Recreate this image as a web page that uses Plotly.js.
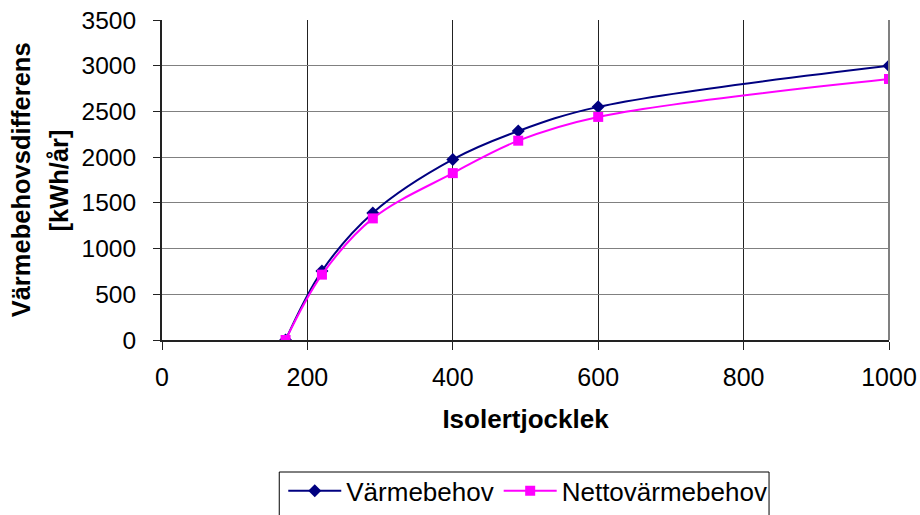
<!DOCTYPE html>
<html>
<head>
<meta charset="utf-8">
<script src="https://cdn.plot.ly/plotly-3.0.1.min.js"></script>
<style>html,body{margin:0;padding:0;background:#fff;}#chart{width:920px;height:515px;}</style>
</head>
<body>
<div id="chart"></div>
<script>
var isolering = [170, 220, 290, 400, 490, 600, 1000];
var varmebehov = [0, 755, 1390, 1975, 2285, 2550, 3000];
var nettovarmebehov = [0, 715, 1330, 1825, 2180, 2440, 2855];
var xTicks = [0, 200, 400, 600, 800, 1000];
var yTicks = [0, 500, 1000, 1500, 2000, 2500, 3000, 3500];
var yTitleLine1 = "Värmebehovsdifferens";
var yTitleLine2 = "[kWh/år]";
var xTitle = "Isolertjocklek";

var font = "Liberation Sans, Arial, sans-serif";

var traces = [
  {
    x: isolering, y: varmebehov, name: "Värmebehov", type: "scatter", mode: "lines+markers",
    line: {color: "#000080", width: 2, shape: "spline", smoothing: 1},
    marker: {symbol: "diamond", size: 10, color: "#000080"}
  },
  {
    x: isolering, y: nettovarmebehov, name: "Nettovärmebehov", type: "scatter", mode: "lines+markers",
    line: {color: "#FF00FF", width: 2, shape: "spline", smoothing: 1},
    marker: {symbol: "square", size: 10, color: "#FF00FF"}
  }
];

var layout = {
  width: 920, height: 515,
  margin: {l: 162, r: 31, t: 20, b: 175, autoexpand: false},
  paper_bgcolor: "#fff", plot_bgcolor: "#fff",
  font: {family: font, color: "#000"},
  showlegend: true,
  legend: {
    orientation: "h", x: 0.1668, xanchor: "left", y: -0.545, yanchor: "bottom",
    bgcolor: "rgba(0,0,0,0)", borderwidth: 0, font: {size: 26, family: font},
    itemwidth: 53, itemclick: false, tracegroupgap: 0
  },
  xaxis: {
    range: [0, 1000], tickvals: xTicks, ticktext: xTicks.map(String),
    showgrid: true, gridcolor: "#222", gridwidth: 1,
    showline: true, linecolor: "#222", linewidth: 2,
    ticks: "outside", ticklen: 8, tickcolor: "#222", tickwidth: 1,
    tickfont: {size: 25, family: font}, ticklabelstandoff: 6,
    zeroline: false, fixedrange: true,
    title: {text: "<b>" + xTitle + "</b>", font: {size: 26, family: font}, standoff: 20}
  },
  yaxis: {
    range: [0, 3500], tickvals: yTicks, ticktext: yTicks.map(String),
    showgrid: true, gridcolor: "#808080", gridwidth: 1,
    showline: true, linecolor: "#222", linewidth: 2,
    ticks: "outside", ticklen: 7, tickcolor: "#222", tickwidth: 1,
    tickfont: {size: 24.5, family: font}, ticklabelstandoff: 12,
    zeroline: false, fixedrange: true
  },
  annotations: [
    {text: "<b>" + yTitleLine1 + "</b>", xref: "paper", yref: "paper", x: -0.1935, y: 0.5,
     xanchor: "center", yanchor: "middle", textangle: -90, showarrow: false,
     font: {size: 25.5, family: font}},
    {text: "<b>" + yTitleLine2 + "</b>", xref: "paper", yref: "paper", x: -0.141, y: 0.5,
     xanchor: "center", yanchor: "middle", textangle: -90, showarrow: false,
     font: {size: 25.5, family: font}}
  ],
  shapes: [
    {type: "line", xref: "paper", yref: "paper", x0: 1, x1: 1, y0: 0, y1: 1, line: {color: "#808080", width: 2}},
    {type: "rect", xref: "paper", yref: "paper", x0: 0.1613, x1: 0.835, y0: -0.4125, y1: -0.62,
     line: {color: "#000", width: 1}, fillcolor: "rgba(0,0,0,0)", layer: "above"}
  ]
};

Plotly.newPlot("chart", traces, layout, {displayModeBar: false, staticPlot: true});
</script>
</body>
</html>
